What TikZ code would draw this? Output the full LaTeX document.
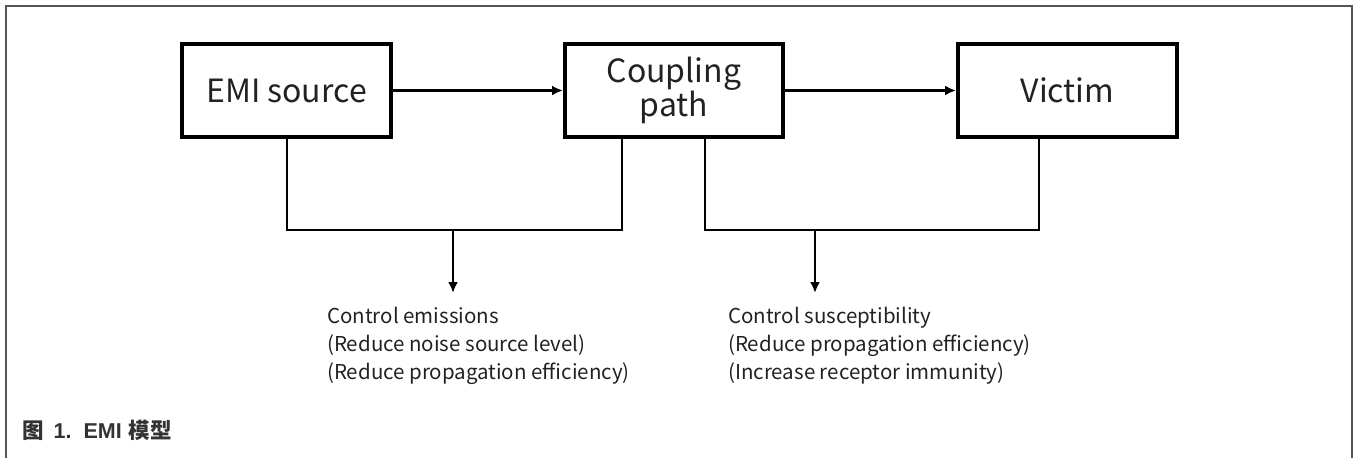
\documentclass[tikz,border=0pt]{standalone}
\usepackage{fontspec}
\setmainfont{Noto Sans CJK SC}
\newfontfamily\capfont{Liberation Sans}
\usetikzlibrary{arrows.meta}
\definecolor{txt}{HTML}{222222}
\definecolor{captxt}{HTML}{333333}
\definecolor{frame}{HTML}{555555}
\tikzset{
  blockbox/.style={draw=black, line width=4pt, inner sep=0pt, text=txt, align=center,
    font=\fontsize{32}{33}\selectfont, minimum height=93pt},
  conn/.style={draw=black, line width=2.2pt},
  arr/.style={conn, -{Latex[length=11pt,width=10pt]}},
  note/.style={anchor=north west, align=left, inner sep=0pt, text=txt,
    font=\fontsize{20.5}{28}\selectfont},
}
\begin{document}
\begin{tikzpicture}[x=1pt,y=-1pt]
\useasboundingbox (0,0) rectangle (1354,458);
\draw[frame, line width=2pt] (6,458) -- (6,6) -- (1352,6) -- (1352,458);
\node[blockbox, minimum width=209pt] (emi) at (286.5,90.5) {EMI source};
\node[blockbox, minimum width=218pt] (cp) at (674,90.5) {Coupling\\path};
\node[blockbox, minimum width=219pt] (vic) at (1067.5,90.5) {Victim};
\draw[arr] (emi.east) -- (cp.west);
\draw[arr] (cp.east) -- (vic.west);
\coordinate (a1) at (287,230);
\coordinate (a2) at (622,230);
\coordinate (b1) at (705,230);
\coordinate (b2) at (1039,230);
\coordinate (am) at (453,230);
\coordinate (bm) at (815,230);
\coordinate (at) at (453,293);
\coordinate (bt) at (815,293);
\draw[conn] (emi.south -| a1) -- (a1) -- (a2) -- (cp.south -| a2);
\draw[conn] (cp.south -| b1) -- (b1) -- (b2) -- (vic.south -| b2);
\draw[arr] (am) -- (at);
\draw[arr] (bm) -- (bt);
\node[note] (n1) at (327,307) {Control emissions\\(Reduce noise source level)\\(Reduce propagation efficiency)};
\node[note] (n2) at (728,307) {Control susceptibility\\(Reduce propagation efficiency)\\(Increase receptor immunity)};
\node[anchor=west, inner sep=0pt, text=captxt, font=\bfseries\fontsize{21.5}{22}\selectfont] (cap) at (22,430) {图\hspace{10pt}{\capfont 1.\hspace{12pt}EMI}\hspace{7pt}模型};
\end{tikzpicture}
\end{document}
